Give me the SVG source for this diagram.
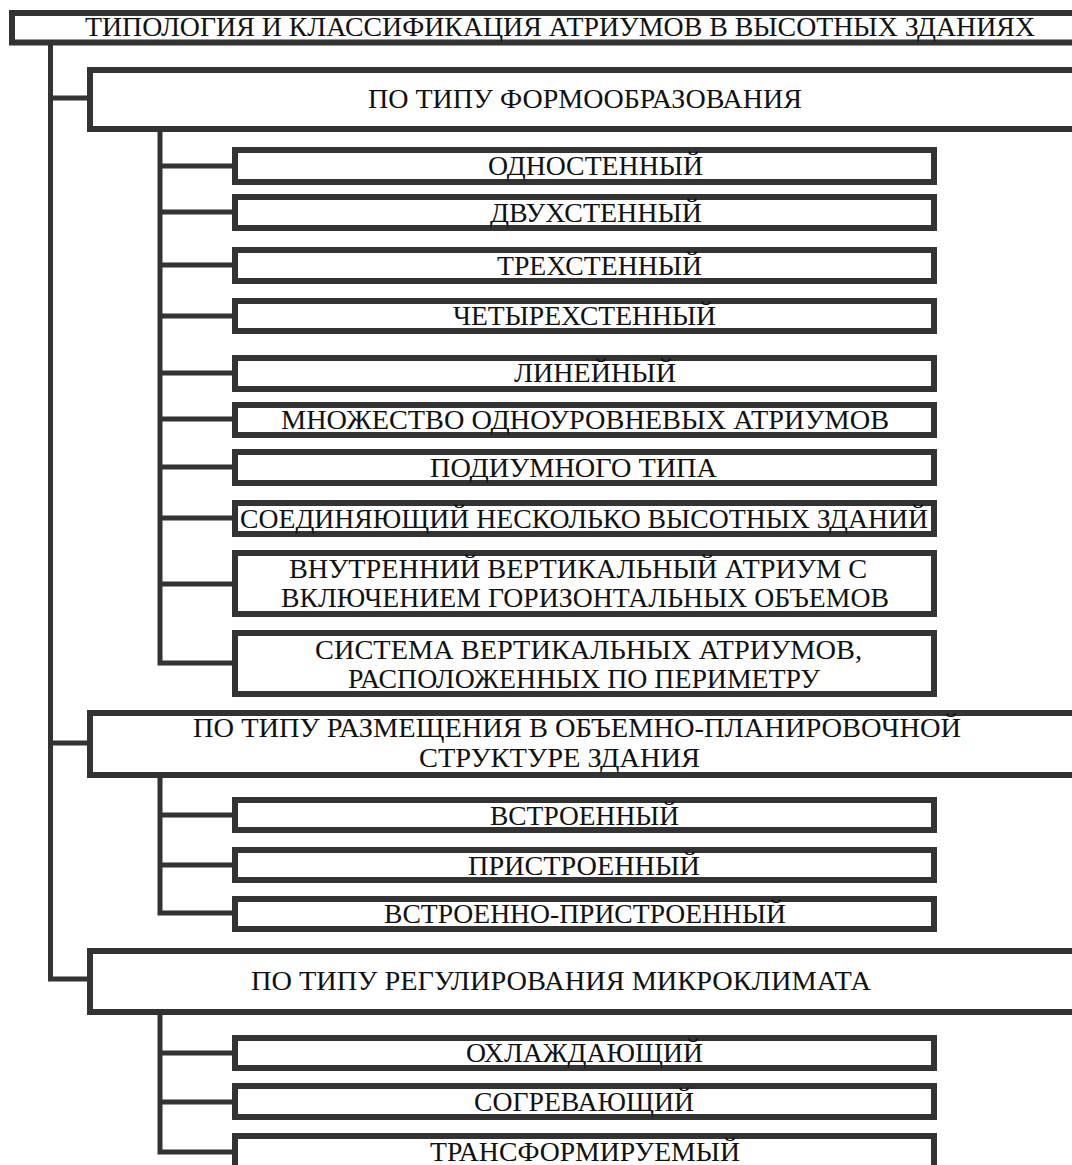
<svg xmlns="http://www.w3.org/2000/svg" width="1072" height="1165" viewBox="0 0 1072 1165">
<style>
.bx{fill:#fff;stroke:#333;stroke-width:6}
.cn{fill:none;stroke:#333;stroke-width:5}
.t{fill:#111;text-anchor:middle}
</style>
<rect width="1072" height="1165" fill="#fff"/>
<g id="connectors">
<path class="cn" d="M50.5,45 V981.5 M48,98 H90 M48,743 H90 M48,979 H90"/>
<path class="cn" d="M160,132 V665.5 M157.5,166 H235 M157.5,212 H235 M157.5,265 H235 M157.5,316 H235 M157.5,373 H235 M157.5,419 H235 M157.5,467 H235 M157.5,518 H235 M157.5,584 H235 M157.5,663 H235"/>
<path class="cn" d="M160,778 V915.5 M157.5,815 H235 M157.5,865 H235 M157.5,913 H235"/>
<path class="cn" d="M160,1015 V1154.5 M157.5,1053 H235 M157.5,1102 H235 M157.5,1152 H235"/>
</g>
<g id="nodes" font-family="Liberation Serif, Times New Roman, serif" font-size="27">
<g id="root"><rect class="bx" x="12" y="13" width="1100" height="29.5"/><text class="t" x="560" y="36" textLength="950" lengthAdjust="spacingAndGlyphs">ТИПОЛОГИЯ И КЛАССИФИКАЦИЯ АТРИУМОВ В ВЫСОТНЫХ  ЗДАНИЯХ</text></g>
<g id="form"><rect class="bx" x="90" y="70" width="1000" height="59"/><text class="t" x="585" y="108" textLength="434" lengthAdjust="spacingAndGlyphs">ПО ТИПУ  ФОРМООБРАЗОВАНИЯ</text></g>
<g id="f1"><rect class="bx" x="235" y="150" width="699" height="32"/><text class="t" x="595.5" y="175" textLength="215" lengthAdjust="spacingAndGlyphs">ОДНОСТЕННЫЙ</text></g>
<g id="f2"><rect class="bx" x="235" y="197" width="699" height="31"/><text class="t" x="596" y="222" textLength="212" lengthAdjust="spacingAndGlyphs">ДВУХСТЕННЫЙ</text></g>
<g id="f3"><rect class="bx" x="235" y="250" width="699" height="31"/><text class="t" x="599.5" y="275" textLength="205" lengthAdjust="spacingAndGlyphs">ТРЕХСТЕННЫЙ</text></g>
<g id="f4"><rect class="bx" x="235" y="301" width="699" height="30"/><text class="t" x="584.5" y="325" textLength="263" lengthAdjust="spacingAndGlyphs">ЧЕТЫРЕХСТЕННЫЙ</text></g>
<g id="f5"><rect class="bx" x="235" y="358" width="699" height="31"/><text class="t" x="595" y="382" textLength="162" lengthAdjust="spacingAndGlyphs">ЛИНЕЙНЫЙ</text></g>
<g id="f6"><rect class="bx" x="235" y="405" width="699" height="30"/><text class="t" x="585" y="429" textLength="608" lengthAdjust="spacingAndGlyphs">МНОЖЕСТВО  ОДНОУРОВНЕВЫХ  АТРИУМОВ</text></g>
<g id="f7"><rect class="bx" x="235" y="452" width="699" height="31"/><text class="t" x="573.5" y="477" textLength="287" lengthAdjust="spacingAndGlyphs">ПОДИУМНОГО  ТИПА</text></g>
<g id="f8"><rect class="bx" x="235" y="503" width="699" height="31"/><text class="t" x="584" y="528" textLength="688" lengthAdjust="spacingAndGlyphs">СОЕДИНЯЮЩИЙ НЕСКОЛЬКО ВЫСОТНЫХ ЗДАНИЙ</text></g>
<g id="f9"><rect class="bx" x="235" y="553" width="699" height="61"/><text class="t" x="578" y="578" textLength="578" lengthAdjust="spacingAndGlyphs">ВНУТРЕННИЙ  ВЕРТИКАЛЬНЫЙ  АТРИУМ С</text><text class="t" x="585" y="607" textLength="608" lengthAdjust="spacingAndGlyphs">ВКЛЮЧЕНИЕМ ГОРИЗОНТАЛЬНЫХ ОБЪЕМОВ</text></g>
<g id="f10"><rect class="bx" x="235" y="633" width="699" height="61"/><text class="t" x="588.5" y="659" textLength="547" lengthAdjust="spacingAndGlyphs">СИСТЕМА  ВЕРТИКАЛЬНЫХ  АТРИУМОВ,</text><text class="t" x="584" y="688" textLength="472" lengthAdjust="spacingAndGlyphs">РАСПОЛОЖЕННЫХ ПО ПЕРИМЕТРУ</text></g>
<g id="place"><rect class="bx" x="90" y="713" width="1000" height="62"/><text class="t" x="577" y="737" textLength="768" lengthAdjust="spacingAndGlyphs">ПО ТИПУ  РАЗМЕЩЕНИЯ  В  ОБЪЕМНО-ПЛАНИРОВОЧНОЙ</text><text class="t" x="559.5" y="767" textLength="281" lengthAdjust="spacingAndGlyphs">СТРУКТУРЕ  ЗДАНИЯ</text></g>
<g id="p1"><rect class="bx" x="235" y="800" width="699" height="30"/><text class="t" x="584.5" y="825" textLength="189" lengthAdjust="spacingAndGlyphs">ВСТРОЕННЫЙ</text></g>
<g id="p2"><rect class="bx" x="235" y="850" width="699" height="30"/><text class="t" x="584" y="875" textLength="232" lengthAdjust="spacingAndGlyphs">ПРИСТРОЕННЫЙ</text></g>
<g id="p3"><rect class="bx" x="235" y="899" width="699" height="30"/><text class="t" x="585" y="923" textLength="402" lengthAdjust="spacingAndGlyphs">ВСТРОЕННО-ПРИСТРОЕННЫЙ</text></g>
<g id="climate"><rect class="bx" x="90" y="951" width="1000" height="61"/><text class="t" x="561" y="990" textLength="620" lengthAdjust="spacingAndGlyphs">ПО ТИПУ  РЕГУЛИРОВАНИЯ  МИКРОКЛИМАТА</text></g>
<g id="c1"><rect class="bx" x="235" y="1038" width="699" height="30"/><text class="t" x="584.5" y="1062" textLength="237" lengthAdjust="spacingAndGlyphs">ОХЛАЖДАЮЩИЙ</text></g>
<g id="c2"><rect class="bx" x="235" y="1086" width="699" height="31"/><text class="t" x="584" y="1111" textLength="220" lengthAdjust="spacingAndGlyphs">СОГРЕВАЮЩИЙ</text></g>
<g id="c3"><rect class="bx" x="235" y="1136" width="699" height="40"/><text class="t" x="585" y="1161" textLength="310" lengthAdjust="spacingAndGlyphs">ТРАНСФОРМИРУЕМЫЙ</text></g>
</g>
</svg>
